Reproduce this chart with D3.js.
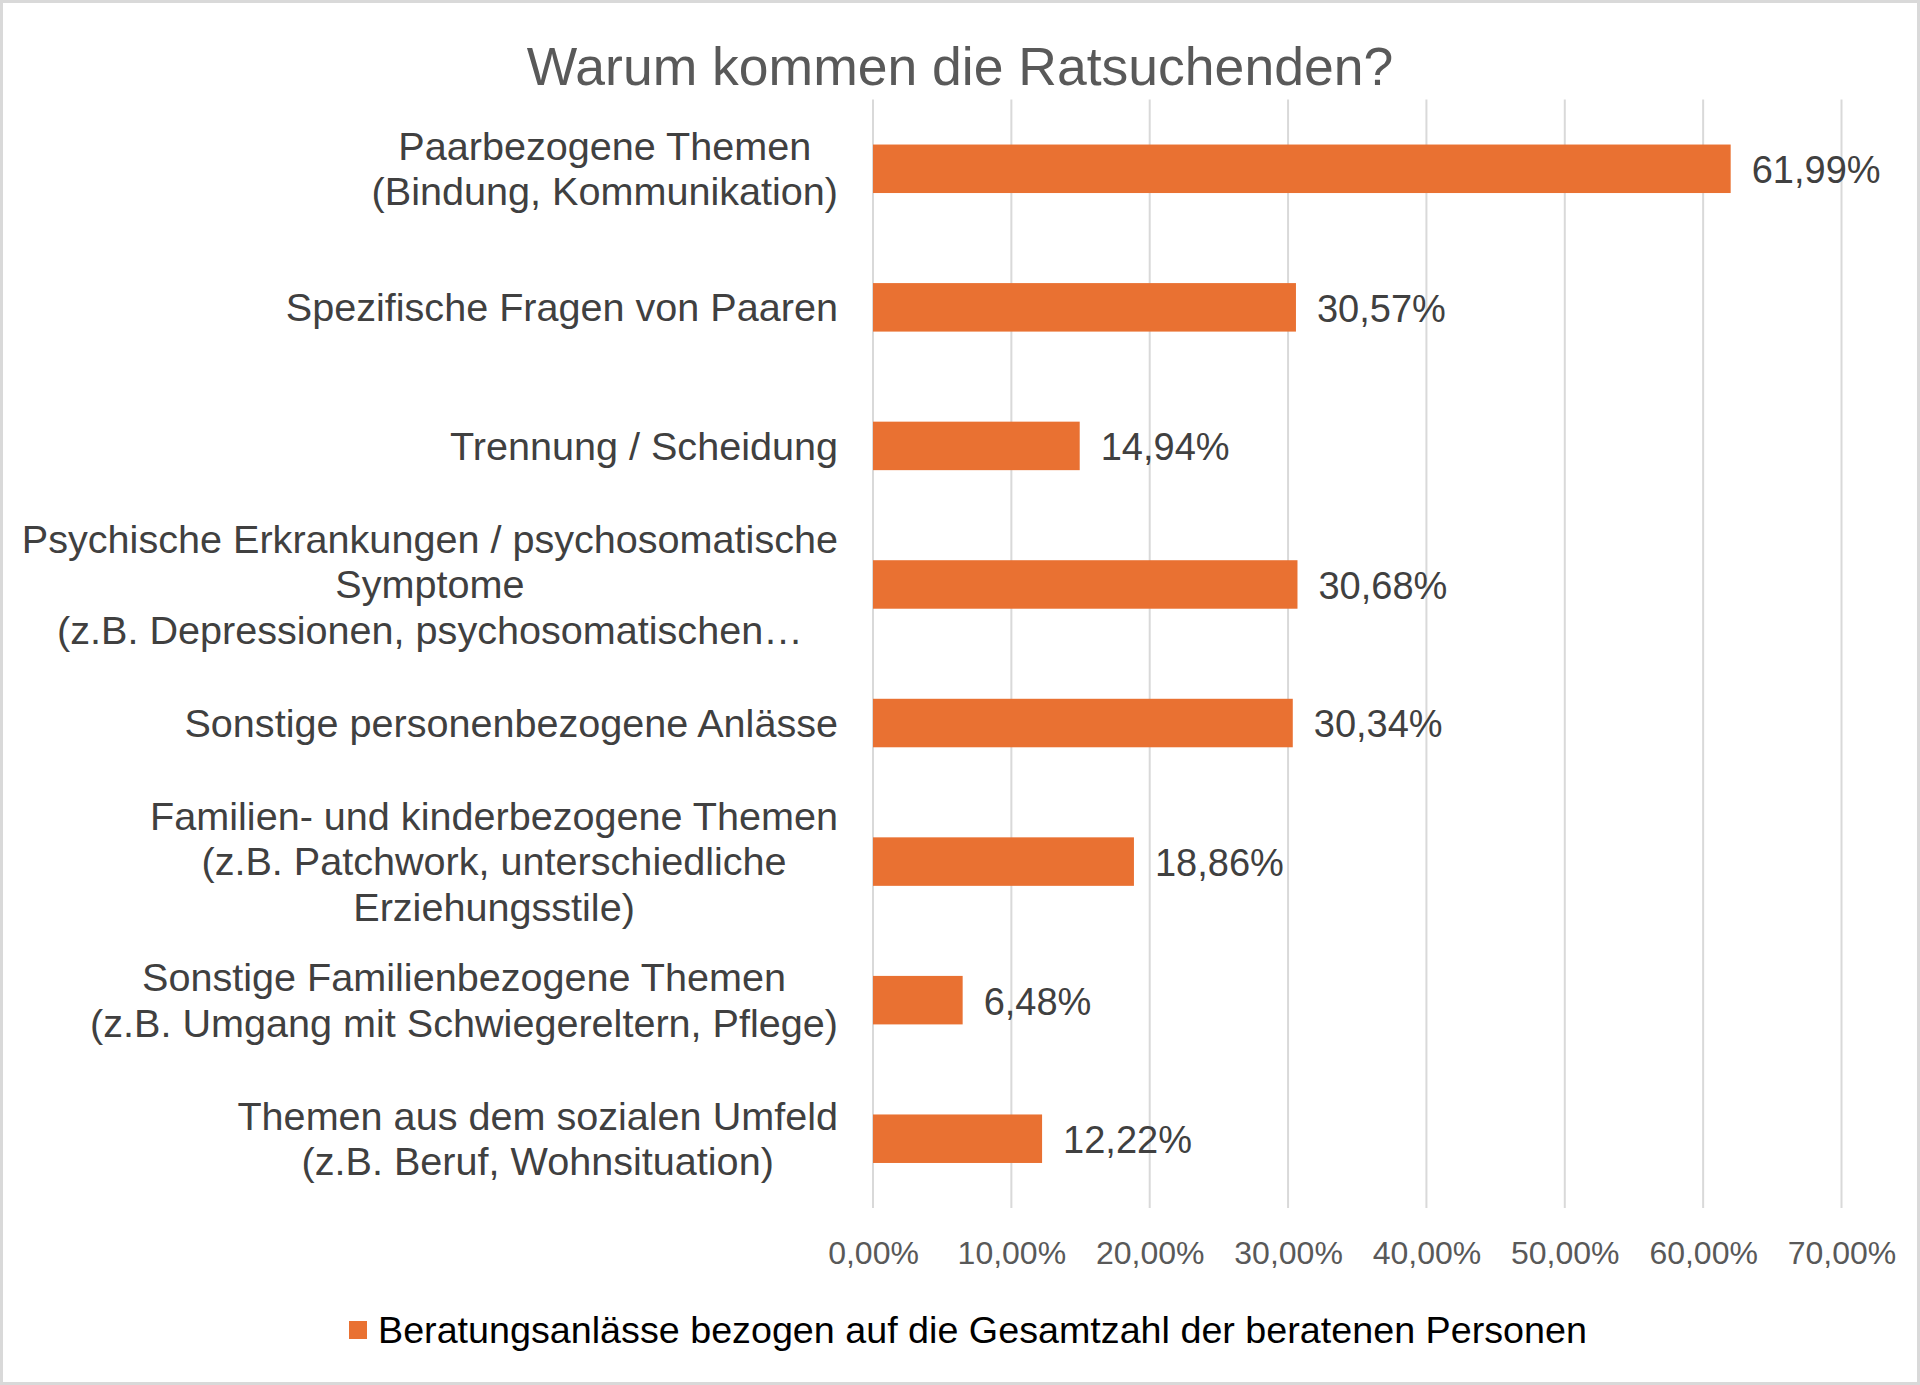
<!DOCTYPE html>
<html>
<head>
<meta charset="utf-8">
<script src="https://cdn.jsdelivr.net/npm/d3@7"></script>
<style>
  html, body { margin: 0; padding: 0; background: #fff; }
  svg { display: block; font-family: "Liberation Sans", Arial, sans-serif; }
</style>
</head>
<body>
<svg id="chart" width="1920" height="1385"></svg>
<script>
// ---- Data ----
const title = "Warum kommen die Ratsuchenden?";
const categories = [
  ["Paarbezogene Themen", "(Bindung, Kommunikation)"],
  ["Spezifische Fragen von Paaren"],
  ["Trennung / Scheidung"],
  ["Psychische Erkrankungen / psychosomatische", "Symptome", "(z.B. Depressionen, psychosomatischen…"],
  ["Sonstige personenbezogene Anlässe"],
  ["Familien- und kinderbezogene Themen", "(z.B. Patchwork, unterschiedliche", "Erziehungsstile)"],
  ["Sonstige Familienbezogene Themen", "(z.B. Umgang mit Schwiegereltern, Pflege)"],
  ["Themen aus dem sozialen Umfeld", "(z.B. Beruf, Wohnsituation)"]
];
const values = [61.99, 30.57, 14.94, 30.68, 30.34, 18.86, 6.48, 12.22];
const tickValues = [0, 10, 20, 30, 40, 50, 60, 70];
const seriesName = "Beratungsanlässe bezogen auf die Gesamtzahl der beratenen Personen";

// ---- Layout ----
const W = 1920, H = 1385;
const plot = { left: 873, right: 1841.5, top: 99.5, bottom: 1208 };
const barColor = "#E97132";
const fmt = v => d3.format(".2f")(v).replace(".", ",") + "%";

const svg = d3.select("#chart");

// Outer border
svg.append("rect")
  .attr("x", 1.5).attr("y", 1.5)
  .attr("width", W - 3).attr("height", H - 3)
  .attr("fill", "#fff").attr("stroke", "#d9d9d9").attr("stroke-width", 3);

const x = d3.scaleLinear().domain([0, 70]).range([plot.left, plot.right]);
const y = d3.scaleBand().domain(d3.range(categories.length))
  .range([plot.top, plot.bottom]).paddingInner(0.65).paddingOuter(0.325);

// Title
svg.append("text")
  .attr("x", 960).attr("y", 85)
  .attr("text-anchor", "middle")
  .attr("font-size", 53.5).attr("fill", "#595959")
  .text(title);

// Gridlines
svg.append("g").selectAll("line").data(tickValues).join("line")
  .attr("x1", d => x(d)).attr("x2", d => x(d))
  .attr("y1", plot.top).attr("y2", plot.bottom)
  .attr("stroke", "#d9d9d9").attr("stroke-width", 2);

// Tick labels via axis
const axis = d3.axisBottom(x).tickValues(tickValues).tickSize(0).tickFormat(fmt);
const gAxis = svg.append("g").attr("transform", `translate(0,${plot.bottom})`).call(axis);
gAxis.select(".domain").remove();
gAxis.selectAll("text")
  .attr("y", 45).attr("dy", "0.35em")
  .attr("font-size", 32).attr("fill", "#595959")
  .attr("font-family", "\"Liberation Sans\", Arial, sans-serif");

// Bars
svg.append("g").selectAll("rect").data(values).join("rect")
  .attr("x", x(0))
  .attr("y", (d, i) => y(i))
  .attr("width", d => x(d) - x(0))
  .attr("height", y.bandwidth())
  .attr("fill", barColor);

// Value labels
svg.append("g").selectAll("text").data(values).join("text")
  .attr("x", d => x(d) + 21)
  .attr("y", (d, i) => y(i) + y.bandwidth() / 2)
  .attr("dy", "0.38em")
  .attr("font-size", 38).attr("fill", "#404040")
  .text(d => fmt(d));

// Category labels: block right-aligned, lines centered
const lineH = 45.3;
const labelRight = 838;
categories.forEach((lines, i) => {
  const cy = y(i) + y.bandwidth() / 2;
  const g = svg.append("g");
  const texts = lines.map((ln, j) => g.append("text")
    .attr("y", cy + (j - (lines.length - 1) / 2) * lineH)
    .attr("dy", "0.35em")
    .attr("text-anchor", "middle")
    .attr("font-size", 39.6).attr("fill", "#404040")
    .text(ln));
  const maxW = d3.max(texts, t => t.node().getComputedTextLength());
  texts.forEach(t => t.attr("x", labelRight - maxW / 2));
});

// Legend
svg.append("rect")
  .attr("x", 349).attr("y", 1321).attr("width", 18).attr("height", 18)
  .attr("fill", barColor);
svg.append("text")
  .attr("x", 378).attr("y", 1330).attr("dy", "0.35em")
  .attr("font-size", 37.7).attr("fill", "#000")
  .text(seriesName);
</script>
</body>
</html>
